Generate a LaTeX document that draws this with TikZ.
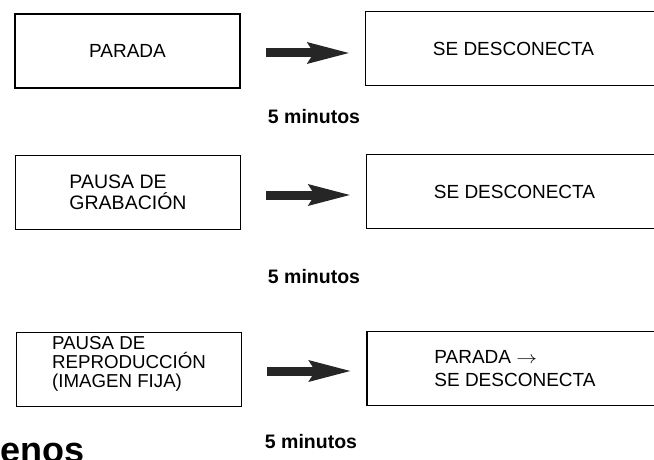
\documentclass[tikz,border=0pt]{standalone}
\usepackage{fontspec}
\setmainfont{Liberation Sans}
\usetikzlibrary{arrows.meta,calc}
\tikzset{
 timer/.style={font=\fontsize{19}{21}\selectfont,line join=miter},
 state/.style={draw=black,line width=1.5pt,minimum width=225pt,minimum height=74pt,inner sep=0pt,align=left},
 result/.style={state,minimum width=296pt},
 push/.style={draw=black!85,line width=9pt,shorten <=25pt,shorten >=16pt,
   -{Stealth[length=42pt,width=22pt,inset=7pt,line width=0pt]}},
 delay/.style={font=\fontsize{19.5}{22}\selectfont\bfseries},
 heading/.style={font=\fontsize{36}{40}\selectfont\bfseries,anchor=base west,inner sep=0pt}
}

\begin{document}
\begin{tikzpicture}[timer,x=1pt,y=-1pt]
 \clip (0,0) rectangle (654,460);
 \fill[white] (0,0) rectangle (654,460);
 % row 1
 \node[state,align=center] (stop) at (127.5,51) {PARADA};
 \node[result,align=center] (off1) at (513.5,48.5) {SE DESCONECTA};
 \draw[push] ([yshift=-2pt]stop.east) -- ([yshift=-2pt]stop.east -| off1.west);
 \node[delay] (t1) at (314,117) {5 minutos};
 % row 2
 \node[state,font=\fontsize{19.5}{20.5}\selectfont] (rec) at (128,192.5) {PAUSA DE\\GRABACIÓN};
 \node[result,align=center] (off2) at (514.5,191.5) {SE DESCONECTA};
 \draw[push] ([yshift=-2.5pt]rec.east) -- ([yshift=-2.5pt]rec.east -| off2.west);
 \node[delay] (t2) at (314,277) {5 minutos};
 % row 3
 \node[state] (play) at (129,369.5) {};
 \node[align=left,inner sep=0pt,font=\fontsize{18.7}{19}\selectfont] (playtext) at ([yshift=6pt]play.center) {PAUSA DE\\REPRODUCCIÓN\\(IMAGEN FIJA)};
 \node[result,font=\fontsize{19}{23}\selectfont] (off3) at (515,368.5) {PARADA \scalebox{1.2}[1]{$\rightarrow$}\\SE DESCONECTA};
 \draw[push] ([yshift=-1.5pt]play.east) -- ([yshift=-1.5pt]play.east -| off3.west);
 \node[delay] (t3) at (311,442) {5 minutos};
 \node[heading] (cut) at (0,462) {enos};
\end{tikzpicture}
\end{document}
